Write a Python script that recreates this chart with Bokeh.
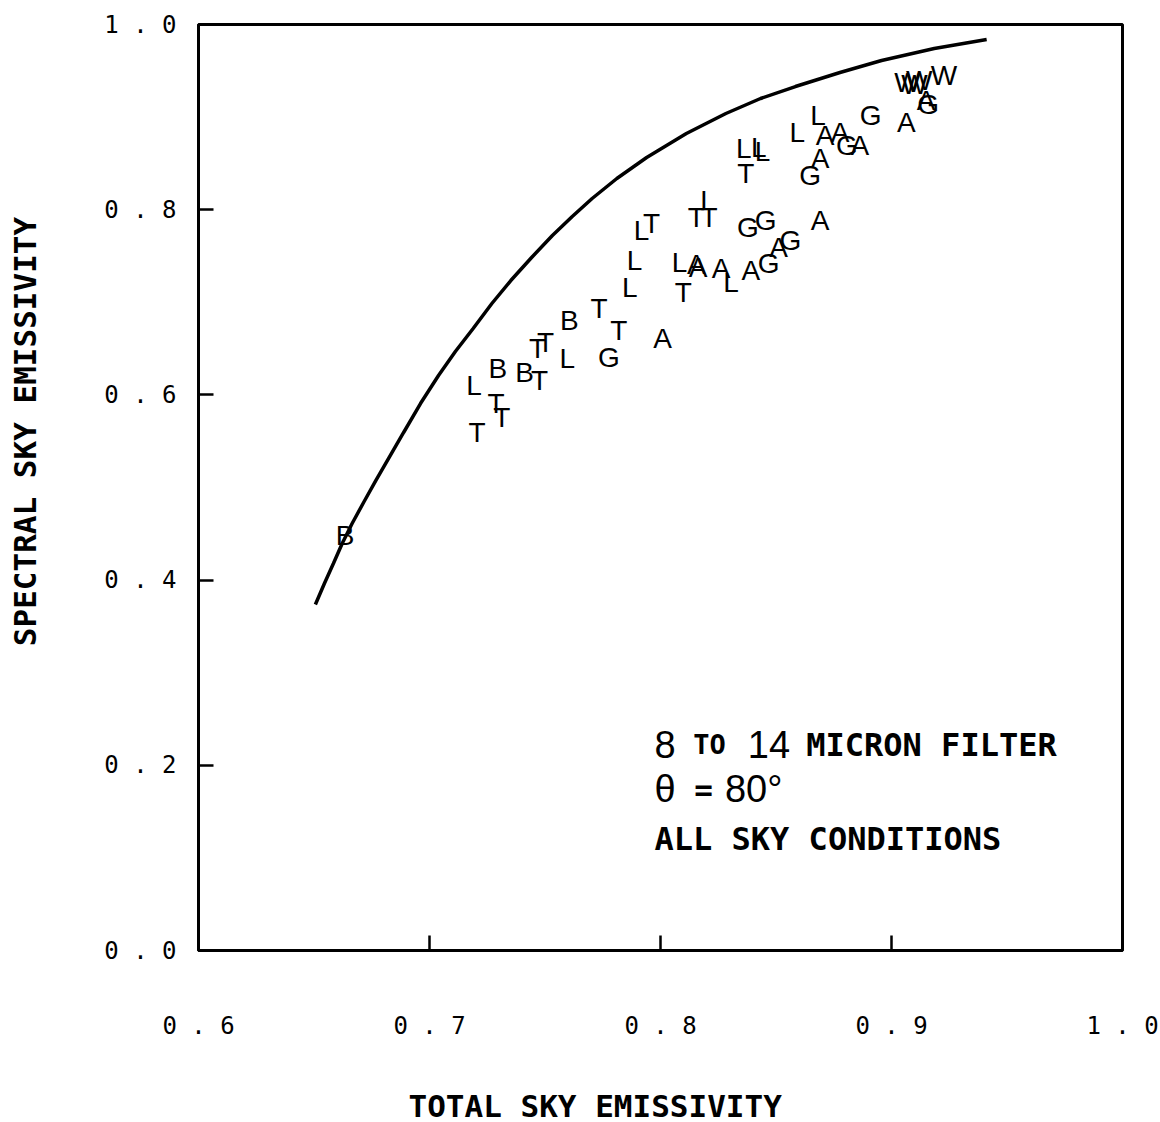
from bokeh.core.properties import value
from bokeh.embed import file_html
from bokeh.models import ColumnDataSource, FixedTicker, Label, Range1d
from bokeh.plotting import figure
from bokeh.resources import INLINE

# Limiting curve: spectral (8-14 micron) emissivity vs total sky emissivity
curve_total = [0.6506, 0.6545, 0.6584, 0.6622, 0.6665, 0.6717, 0.6768, 0.6828,
               0.6888, 0.6961, 0.7039, 0.7112, 0.7189, 0.7270, 0.7352, 0.7442,
               0.7532, 0.7618, 0.7704, 0.7811, 0.7940, 0.8112, 0.8283, 0.8433,
               0.8584, 0.8777, 0.8957, 0.9185, 0.9412]
curve_spectral = [0.3737, 0.3963, 0.4179, 0.4395, 0.4611, 0.4849, 0.5076, 0.5335,
                  0.5594, 0.5907, 0.6210, 0.6469, 0.6717, 0.6987, 0.7235, 0.7484,
                  0.7721, 0.7927, 0.8121, 0.8337, 0.8564, 0.8823, 0.9039, 0.9201,
                  0.9330, 0.9482, 0.9611, 0.9741, 0.9838]

# Observations, each plotted as its site letter
obs_code = ["B", "L", "T", "B", "T", "T", "B", "T", "T", "T",
            "L", "B", "T", "T", "G", "A", "L", "T", "L", "L",
            "T", "T", "T", "L", "G", "G", "A", "L", "A", "A",
            "A", "L", "A", "G", "A", "G", "L", "L", "L", "T",
            "L", "L", "A", "A", "G", "A", "A", "G", "G", "A",
            "W", "W", "W", "W", "A", "G"]
obs_total = [0.6635, 0.7193, 0.7206, 0.7296, 0.7288, 0.7313, 0.7412, 0.7476, 0.7468, 0.7502,
             0.7597, 0.7605, 0.7734, 0.7820, 0.7777, 0.8009, 0.7867, 0.8099, 0.7888, 0.7918,
             0.7961, 0.8155, 0.8210, 0.8206, 0.8378, 0.8455, 0.8691, 0.8082, 0.8163, 0.8155,
             0.8262, 0.8305, 0.8391, 0.8468, 0.8511, 0.8562, 0.8361, 0.8425, 0.8442, 0.8369,
             0.8592, 0.8682, 0.8712, 0.8777, 0.8807, 0.8863, 0.8691, 0.8648, 0.8910, 0.9064,
             0.9069, 0.9099, 0.9120, 0.9227, 0.9150, 0.9159]
obs_spectral = [0.448, 0.610, 0.559, 0.6285, 0.5907, 0.5756, 0.6242, 0.6156, 0.6501, 0.6566,
                0.6393, 0.6803, 0.6933, 0.6695, 0.6404, 0.6609, 0.7160, 0.7106, 0.7451, 0.7775,
                0.7851, 0.7916, 0.7916, 0.8099, 0.7808, 0.7883, 0.7883, 0.7430, 0.7376, 0.7408,
                0.7365, 0.7214, 0.7343, 0.7419, 0.7592, 0.7667, 0.8661, 0.8672, 0.8629, 0.8391,
                0.8834, 0.9017, 0.8801, 0.8834, 0.8693, 0.8693, 0.8553, 0.8369, 0.9017, 0.8942,
                0.9374, 0.9352, 0.9395, 0.9449, 0.9179, 0.9136]

x_ticks = [0.6, 0.7, 0.8, 0.9, 1.0]
x_tick_labels = ["0 . 6", "0 . 7", "0 . 8", "0 . 9", "1 . 0"]
y_ticks = [0.0, 0.2, 0.4, 0.6, 0.8, 1.0]
y_tick_labels = ["0 . 0", "0 . 2", "0 . 4", "0 . 6", "0 . 8", "1 . 0"]

x_title = "TOTAL SKY EMISSIVITY"
y_title = "SPECTRAL SKY EMISSIVITY"

MONO = "DejaVu Sans Mono"
SANS = "Liberation Sans"
NBSP = "\u00a0"

p = figure(
    frame_width=924, frame_height=926,
    x_range=Range1d(0.6, 1.0), y_range=Range1d(0.0, 1.0),
    min_border_left=198, min_border_right=38,
    min_border_top=24, min_border_bottom=172,
    output_backend="svg", toolbar_location=None,
    background_fill_color="white", border_fill_color="white",
)
p.grid.visible = False
p.outline_line_color = "black"
p.outline_line_width = 3
p.outline_line_alpha = 1.0

for ax, ticks, labels in ((p.xaxis[0], x_ticks, x_tick_labels),
                          (p.yaxis[0], y_ticks, y_tick_labels)):
    ax.ticker = FixedTicker(ticks=ticks, minor_ticks=[])
    ax.major_label_overrides = {t: s for t, s in zip(ticks, labels)}
    ax.axis_line_width = 3
    ax.axis_line_color = "black"
    ax.major_tick_in = 15
    ax.major_tick_out = 0
    ax.major_tick_line_width = 2.5
    ax.minor_tick_line_color = None
    ax.major_label_text_font = MONO
    ax.major_label_text_font_size = "24px"
    ax.major_label_text_color = "black"
    ax.axis_label_text_font = MONO
    ax.axis_label_text_font_size = "31px"
    ax.axis_label_text_font_style = "bold"
    ax.axis_label_text_color = "black"

p.xaxis.major_label_standoff = 61
p.yaxis.major_label_standoff = 22

# titles sit off-centre along their axes; non-breaking spaces pad them over
p.xaxis.axis_label = x_title + NBSP * 7
p.xaxis.axis_label_standoff = 45
p.yaxis.axis_label = NBSP * 6 + y_title
p.yaxis.axis_label_standoff = 58

# the bounding curve
p.line(curve_total, curve_spectral, line_color="black", line_width=3.5)

# site letters
src = ColumnDataSource(dict(x=obs_total, y=obs_spectral, code=obs_code))
p.text(x="x", y="y", text="code", source=src,
       text_font=value(SANS), text_font_size="28px",
       text_align="center", text_baseline="middle", text_color="black")

# filter / angle / sky-condition note inside the frame
def note(x, y, text, font, size, style="normal"):
    p.add_layout(Label(x=x, y=y, text=text, text_font=font, text_font_size=size,
                       text_font_style=style, text_color="black",
                       text_align="left", text_baseline="alphabetic"))

note(0.7974, 0.2224, "8", SANS, "38px")
note(0.8142, 0.2224, "TO", MONO, "27px", "bold")
note(0.8378, 0.2224, "14", SANS, "38px")
note(0.8631, 0.2224, "MICRON FILTER", MONO, "32px", "bold")
note(0.7974, 0.1740, "\u03b8", SANS, "38px")
note(0.8146, 0.1740, "=", MONO, "31px", "bold")
note(0.8279, 0.1740, "80\u00b0", SANS, "38px")
note(0.7974, 0.1199, "ALL SKY CONDITIONS", MONO, "32px", "bold")

open("out.html", "w").write(file_html(p, INLINE))
